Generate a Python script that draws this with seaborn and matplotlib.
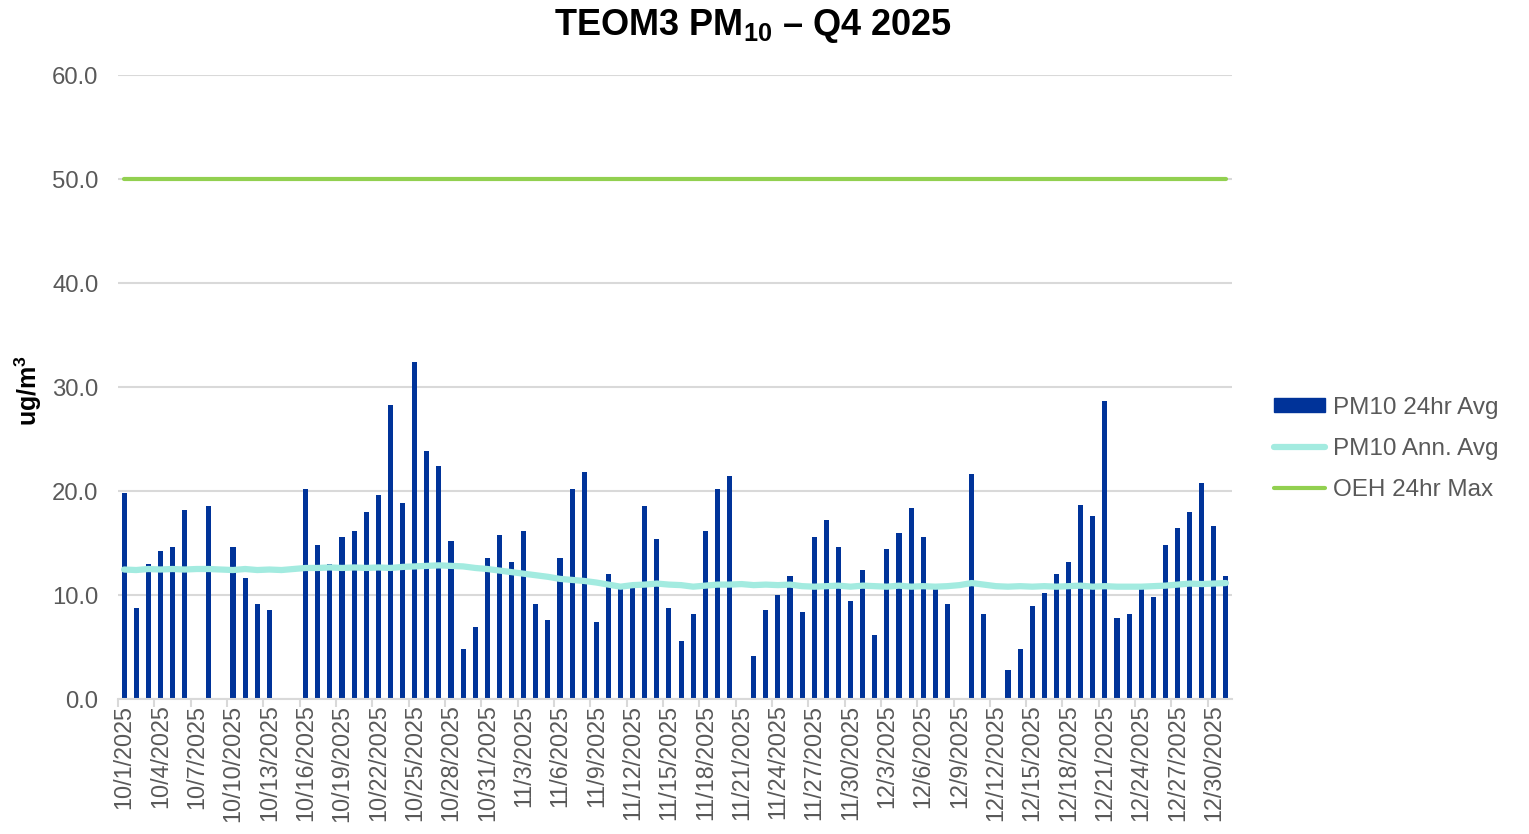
import numpy as np
import pandas as pd
import matplotlib
matplotlib.use("Agg")
import matplotlib.pyplot as plt
import seaborn as sns
from matplotlib.patches import Patch
from matplotlib.lines import Line2D

dates = [f"{d.month}/{d.day}/{d.year}" for d in pd.date_range("2025-10-01", "2025-12-31", freq="D")]

pm10_24hr = [
    19.8, 8.75, 13.0, 14.2, 14.6, 18.2, np.nan, 18.6, np.nan, 14.6,
    11.6, 9.1, 8.55, np.nan, np.nan, 20.2, 14.8, 13.0, 15.6, 16.2,
    18.0, 19.6, 28.3, 18.8, 32.4, 23.8, 22.4, 15.2, 4.8, 6.9,
    13.6, 15.8, 13.2, 16.2, 9.1, 7.6, 13.6, 20.2, 21.8, 7.4,
    12.0, 10.6, 10.9, 18.6, 15.4, 8.75, 5.6, 8.2, 16.2, 20.2,
    21.4, np.nan, 4.1, 8.55, 10.0, 11.8, 8.35, 15.6, 17.2, 14.6,
    9.4, 12.4, 6.15, 14.4, 16.0, 18.4, 15.6, 10.7, 9.1, np.nan,
    21.6, 8.2, np.nan, 2.8, 4.8, 8.95, 10.2, 12.0, 13.2, 18.65,
    17.6, 28.65, 7.8, 8.2, 10.7, 9.8, 14.8, 16.4, 18.0, 20.8,
    16.6, 11.8,
]

pm10_ann_avg = [
    12.45, 12.4, 12.5, 12.45, 12.5, 12.45, 12.5, 12.5, 12.45, 12.4, 12.5, 12.4, 12.45, 12.4, 12.5,
    12.6, 12.6, 12.65, 12.6, 12.65, 12.6, 12.65, 12.6, 12.7,
    12.75, 12.8, 12.85, 12.8, 12.75, 12.6, 12.5, 12.35,
    12.2, 12.05, 11.9, 11.75, 11.55, 11.45, 11.35, 11.2, 11.0, 10.8,
    10.95, 11.0, 11.1, 11.0, 10.95, 10.8,
    10.9, 11.0, 11.0, 11.05, 10.95, 11.0, 10.95, 11.0, 10.85, 10.8, 10.85,
    10.9, 10.8, 10.9, 10.85, 10.8, 10.9, 10.8, 10.85, 10.8, 10.85, 10.95,
    11.15,
    11.0, 10.85, 10.8, 10.85, 10.8, 10.85, 10.8, 10.85, 10.9, 10.8, 10.85, 10.8, 10.8,
    10.8, 10.85, 10.9, 11.0, 11.1, 11.05, 11.1, 11.15,
]

oeh_max = [50.0] * len(dates)

y_ticks = [0, 10, 20, 30, 40, 50, 60]

BAR = "#003399"
TEAL = "#a3ebe0"
GREEN = "#92d050"
GREY = "#595959"

sns.set_theme(style="white")
plt.rcParams["font.family"] = ["Liberation Sans", "DejaVu Sans"]
plt.rcParams["mathtext.fontset"] = "custom"
plt.rcParams["mathtext.rm"] = "Liberation Sans"
plt.rcParams["mathtext.bf"] = "Liberation Sans:bold"

fig = plt.figure(figsize=(15.29, 8.34), dpi=100)
ax = fig.add_axes([118 / 1529, 135 / 834, 1114 / 1529, 624 / 834])

df = pd.DataFrame({"date": dates, "pm10": pm10_24hr})
bars = df.dropna()
sns.barplot(data=bars, x="date", y="pm10", order=dates, color=BAR, saturation=1,
            width=0.42, errorbar=None, linewidth=0, edgecolor=BAR, ax=ax, zorder=2)

pos = np.arange(len(dates))
sns.lineplot(x=pos, y=pm10_ann_avg, color=TEAL, linewidth=4.5, ax=ax, zorder=3)
sns.lineplot(x=pos, y=oeh_max, color=GREEN, linewidth=3.0, ax=ax, zorder=3)

ax.set_xlim(-0.5, len(dates) - 0.5)
ax.set_ylim(0, 60)
ax.set_yticks(y_ticks)
ax.set_yticklabels([f"{v:.1f}" for v in y_ticks])
ax.yaxis.grid(True, color="#d9d9d9", linewidth=1.5, zorder=0)
ax.set_axisbelow(True)

ax.set_xticks(pos[::3])
ax.set_xticklabels(dates[::3], rotation=90)
ax.set_xticks(np.arange(-0.5, len(dates), 3), minor=True)
ax.tick_params(axis="x", which="major", length=0, pad=4, labelsize=16.8, labelcolor=GREY)
ax.tick_params(axis="x", which="minor", length=6, width=1.5, color="#d9d9d9", bottom=True)
ax.tick_params(axis="y", length=0, pad=14, labelsize=17.2, labelcolor=GREY)

for s in ["left", "right", "top"]:
    ax.spines[s].set_visible(False)
ax.spines["bottom"].set_color("#d9d9d9")
ax.spines["bottom"].set_linewidth(1.5)

ax.set_xlabel("")
ax.set_ylabel(r"$\mathbf{ug/m^3}$", fontsize=18, color="black")
ax.yaxis.set_label_coords(-0.066, 0.495)

fig.text(0.4925, 0.969, r"TEOM3 $\mathbf{PM_{10}}$ – Q4 2025", ha="center", va="center",
         fontsize=26, fontweight="bold", color="black")

handles = [
    Patch(facecolor=BAR, edgecolor=BAR),
    Line2D([0], [0], color=TEAL, linewidth=4.5, solid_capstyle="round"),
    Line2D([0], [0], color=GREEN, linewidth=3.0, solid_capstyle="round"),
]
labels = ["PM10 24hr Avg", "PM10 Ann. Avg", "OEH 24hr Max"]
leg = fig.legend(handles, labels, loc="center left", bbox_to_anchor=(0.819, 0.462),
                 frameon=False, fontsize=17.5, handlelength=2.1, handleheight=0.5,
                 handletextpad=0.33, labelspacing=0.78)
for t in leg.get_texts():
    t.set_color(GREY)

fig.savefig("out.png", dpi=100)
